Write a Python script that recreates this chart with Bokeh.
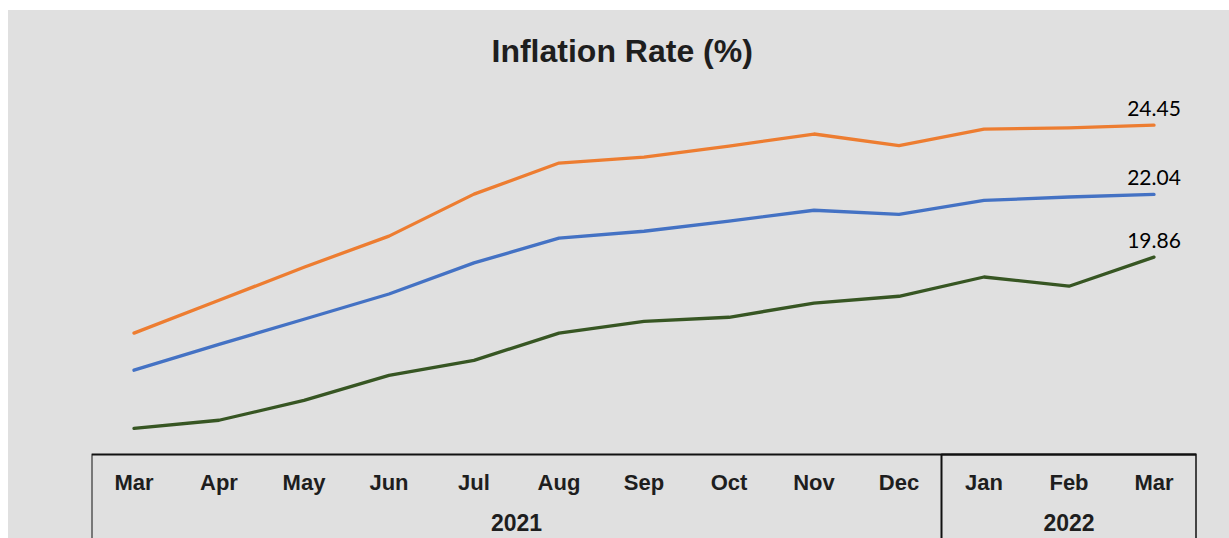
from bokeh.plotting import figure
from bokeh.models import FactorRange, Range1d, BoxAnnotation, ColumnDataSource, Spacer
from bokeh.layouts import column, row
from bokeh.core.properties import value
from bokeh.embed import file_html
from bokeh.resources import INLINE

# ---- data ----
years = ["2021"] * 10 + ["2022"] * 3
months = ["Mar", "Apr", "May", "Jun", "Jul", "Aug", "Sep", "Oct", "Nov", "Dec",
          "Jan", "Feb", "Mar"]
series_orange = [17.22, 18.36, 19.51, 20.59, 22.05, 23.13, 23.34, 23.72, 24.14,
                 23.74, 24.31, 24.35, 24.45]
series_blue = [15.93, 16.83, 17.70, 18.58, 19.66, 20.52, 20.76, 21.11, 21.49,
               21.35, 21.83, 21.95, 22.04]
series_green = [13.91, 14.19, 14.88, 15.75, 16.27, 17.22, 17.63, 17.77, 18.26,
                18.50, 19.17, 18.85, 19.86]
title_text = "Inflation Rate (%)"

factors = list(zip(years, months))
n_2021 = years.count("2021")

BG = "#e0e0e0"
INK = "#1e1e1e"

Y_AXIS_AT = 13.0      # value where the category table starts
Y_TOP = 26.0
Y_BOTTOM = 10.08      # lets the frame run to the bottom edge

p = figure(
    width=1221, height=528,
    x_range=FactorRange(factors=factors, group_padding=0, range_padding=0,
                        factor_padding=0),
    y_range=Range1d(Y_BOTTOM, Y_TOP),
    y_axis_location=None,
    output_backend="svg", toolbar_location=None,
    min_border_left=83, min_border_right=33, min_border_top=70,
    min_border_bottom=0,
)
# one uniform grey behind the whole chart (no seam around the frame)
p.background_fill_color = None
p.border_fill_color = None
p.styles = {"background-color": BG}
p.outline_line_color = None
p.xgrid.visible = False
p.ygrid.visible = False

p.title.text = title_text
p.title.text_font = "Liberation Sans"
p.title.text_font_style = "bold"
p.title.text_font_size = "32px"
p.title.text_color = INK
p.title.align = "left"
p.title.offset = 400
p.title.standoff = 23

ax = p.xaxis[0]
ax.fixed_location = Y_AXIS_AT
ax.axis_line_color = None
ax.major_tick_line_color = None
ax.major_tick_out = 0
ax.major_tick_in = 0
ax.major_label_standoff = 16
ax.major_label_text_font = "Liberation Sans"
ax.major_label_text_font_style = "bold"
ax.major_label_text_font_size = "22px"
ax.major_label_text_color = INK
ax.group_text_font = "Liberation Sans"
ax.group_text_font_style = "bold"
ax.group_text_font_size = "23px"
ax.group_text_color = INK
ax.separator_line_color = None

# table-like box around the category axis
nf = len(factors)
for left in (0, n_2021):
    p.add_layout(BoxAnnotation(left=left, right=nf, top=Y_AXIS_AT,
                               bottom=Y_BOTTOM - 2,
                               fill_color=None, fill_alpha=0,
                               line_color="#111111", line_alpha=1.0,
                               line_width=2))

for vals, col in [(series_orange, "#ed7d31"), (series_blue, "#4472c4"),
                  (series_green, "#375623")]:
    p.line(x=factors, y=vals, line_color=col, line_width=3.3,
           line_join="round", line_cap="round")

lab = ColumnDataSource(dict(
    x=[factors[-1]] * 3,
    y=[series_orange[-1], series_blue[-1], series_green[-1]],
    t=[f"{series_orange[-1]:.2f}", f"{series_blue[-1]:.2f}",
       f"{series_green[-1]:.2f}"],
))
p.text(x="x", y="y", text="t", source=lab, text_font=value("Lato"),
       text_font_size="21px", text_color="#000000", text_align="center",
       text_baseline="alphabetic", y_offset=-17)

layout = column(Spacer(width=1229, height=10),
                row(Spacer(width=8, height=528), p))

open("out.html", "w").write(file_html(layout, INLINE))
